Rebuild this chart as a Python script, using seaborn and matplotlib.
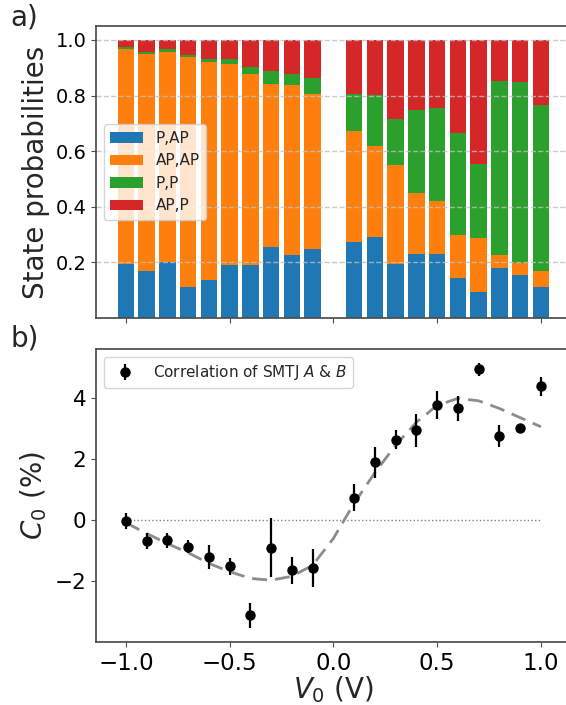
import matplotlib
matplotlib.use("Agg")
import matplotlib.pyplot as plt
import seaborn as sns
import numpy as np
import pandas as pd

# bias voltages of the bar chart (no bar at 0)
voltages = [-1.0, -0.9, -0.8, -0.7, -0.6, -0.5, -0.4, -0.3, -0.2, -0.1,
            0.1, 0.2, 0.3, 0.4, 0.5, 0.6, 0.7, 0.8, 0.9, 1.0]

# state probabilities per voltage
p_ap = [0.195, 0.169, 0.202, 0.111, 0.135, 0.192, 0.190, 0.257, 0.226, 0.248,
        0.273, 0.290, 0.194, 0.232, 0.229, 0.144, 0.094, 0.180, 0.153, 0.111]
ap_ap = [0.772, 0.782, 0.756, 0.829, 0.787, 0.723, 0.689, 0.584, 0.611, 0.559,
         0.398, 0.329, 0.358, 0.216, 0.190, 0.153, 0.195, 0.048, 0.045, 0.058]
p_p = [0.007, 0.007, 0.009, 0.006, 0.011, 0.016, 0.022, 0.047, 0.041, 0.057,
       0.134, 0.184, 0.165, 0.300, 0.335, 0.367, 0.266, 0.625, 0.651, 0.597]
ap_p = [0.026, 0.042, 0.033, 0.054, 0.067, 0.069, 0.099, 0.112, 0.122, 0.136,
        0.195, 0.197, 0.283, 0.252, 0.246, 0.336, 0.445, 0.147, 0.151, 0.234]

state_names = ["P,AP", "AP,AP", "P,P", "AP,P"]
state_colors = ["#1f77b4", "#ff7f0e", "#2ca02c", "#d62728"]

# correlation C0 (%) with error bars
corr = [-0.04, -0.69, -0.66, -0.87, -1.20, -1.51, -3.11, -0.90, -1.65, -1.57,
        0.73, 1.89, 2.63, 2.93, 3.76, 3.65, 4.93, 2.75, 3.00, 4.37]
corr_err = [0.26, 0.27, 0.25, 0.22, 0.39, 0.28, 0.41, 0.95, 0.43, 0.62,
            0.45, 0.50, 0.30, 0.53, 0.47, 0.41, 0.22, 0.36, 0.05, 0.32]

# model curve (dashed)
model_v = [-1.0, -0.9, -0.8, -0.7, -0.6, -0.5, -0.4, -0.3, -0.2, -0.1, 0.0,
           0.1, 0.2, 0.3, 0.4, 0.5, 0.6, 0.7, 0.8, 0.9, 1.0]
model_c = [-0.09, -0.44, -0.77, -1.07, -1.42, -1.69, -1.91, -1.97, -1.84, -1.48, -0.60,
           0.55, 1.55, 2.45, 3.20, 3.75, 3.98, 3.90, 3.65, 3.35, 3.05]

sns.set_theme(style="ticks")
plt.rcParams["font.family"] = ["DejaVu Sans"]
plt.rcParams.update({
    "axes.axisbelow": "line",
    "axes.edgecolor": "0.3",
    "xtick.color": "0.3",
    "ytick.color": "0.3",
    "xtick.labelcolor": "black",
    "ytick.labelcolor": "black",
    "xtick.major.size": 3.5,
    "ytick.major.size": 3.5,
    "xtick.major.width": 0.8,
    "ytick.major.width": 0.8,
    "xtick.major.pad": 3.5,
    "ytick.major.pad": 3.5,
})

fig = plt.figure(figsize=(5.66, 7.05), dpi=100)
ax1 = fig.add_axes([0.1696, 0.5489, 0.8389, 0.4142])
ax2 = fig.add_axes([0.1696, 0.0894, 0.8389, 0.4149])

# stacked bars: draw cumulative totals from the top layer down
layers = np.array([p_ap, ap_ap, p_p, ap_p])
cum = np.cumsum(layers, axis=0)
df = pd.DataFrame({"V": voltages})
handles = {}
for i in range(3, -1, -1):
    df["h"] = cum[i]
    sns.barplot(data=df, x="V", y="h", native_scale=True, width=0.8,
                color=state_colors[i], saturation=1, label=state_names[i],
                linewidth=0, ax=ax1)
for c in ax1.containers:
    handles[c.get_label()] = c
ax1.legend([handles[n] for n in state_names], state_names, loc="center left",
           fontsize=11, handlelength=2.2)
ax1.set_xlim(-1.144, 1.144)
ax1.set_ylim(0, 1.05)
ax1.set_yticks([0.2, 0.4, 0.6, 0.8, 1.0])
ax1.set_xticks([-1.0, -0.5, 0.0, 0.5, 1.0])
ax1.set_xticklabels([])
ax1.yaxis.grid(True, linestyle="--", color="0.75", linewidth=1, alpha=0.8)
ax1.set_xlabel("")
ax1.set_ylabel("State probabilities", fontsize=20)
ax1.tick_params(axis="y", labelsize=14)

# correlation panel
ax2.hlines(0, -1.0, 1.0, colors="0.5", linestyles=":", linewidth=1)
sns.lineplot(x=model_v, y=model_c, ax=ax2, color="0.55", linewidth=2,
             dashes=False, linestyle=(0, (5.4, 2.9)))
ax2.errorbar(voltages, corr, yerr=corr_err, fmt="o", color="black",
             markersize=6.5, elinewidth=1.6, capsize=0,
             label="Correlation of SMTJ $A$ & $B$")
ax2.legend(loc="upper left", fontsize=11)
ax2.set_xlim(-1.144, 1.144)
ax2.set_ylim(-3.99, 5.58)
ax2.set_xticks([-1.0, -0.5, 0.0, 0.5, 1.0])
ax2.set_yticks([-2, 0, 2, 4])
ax2.set_xlabel("$V_0$ (V)", fontsize=20, labelpad=0)
ax2.set_ylabel("$C_0$ (%)", fontsize=20)
ax2.tick_params(axis="x", labelsize=16.5)
ax2.tick_params(axis="y", labelsize=15.5)

fig.text(0.018, 0.975, "a)", fontsize=20, va="center")
fig.text(0.018, 0.52, "b)", fontsize=20, va="center")

fig.savefig("out.png", dpi=100)
